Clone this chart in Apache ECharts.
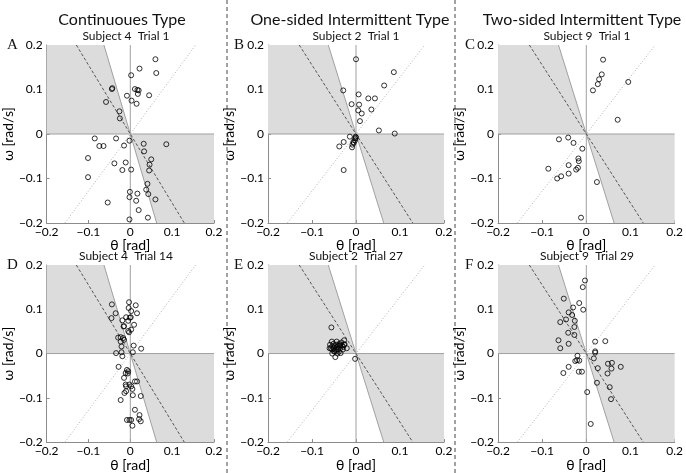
<!DOCTYPE html>
<html><head><meta charset="utf-8">
<script src="https://cdn.jsdelivr.net/npm/echarts@6/dist/echarts.min.js"></script>
<style>html,body{margin:0;padding:0;background:#fff}#c{width:686px;height:473px}</style>
</head><body><div id="c"></div>
<script>
// ---- data ----
const columnTitles = ['Continuoues Type', 'One-sided Intermittent Type', 'Two-sided Intermittent Type'];
const panelLetters = ['A', 'B', 'C', 'D', 'E', 'F'];
const panelSubtitles = ['Subject 4  Trial 1', 'Subject 2  Trial 1', 'Subject 9  Trial 1',
                        'Subject 4  Trial 14', 'Subject 2  Trial 27', 'Subject 9  Trial 29'];
const tickValues = [-0.2, -0.1, 0, 0.1, 0.2];
const shadeUpper = [[-0.2, 0], [-0.2, 0.2], [-0.063, 0.2], [0, 0]];
const shadeLower = [[0, 0], [0.063, -0.2], [0.2, -0.2], [0.2, 0]];
const switchLine = [[-0.063, 0.2], [0.063, -0.2]];
const dashedLine = [[-0.129, 0.2], [0.129, -0.2]];
const dottedLine = [[-0.156, -0.2], [0.156, 0.2]];
const zeroV = [[0, -0.2], [0, 0.2]];
const zeroH = [[-0.2, 0], [0.2, 0]];

const subject4Trial1 = [[0.060,0.168],[0.062,0.137],[0.022,0.147],[0.002,0.132],[-0.044,0.101],[-0.043,0.103],
 [0.011,0.101],[0.017,0.099],[0.020,0.098],[0.018,0.090],[0.045,0.087],[-0.008,0.086],[-0.058,0.072],[0.003,0.075],
 [0.015,0.068],[-0.026,0.051],[-0.025,0.035],[-0.085,-0.010],[-0.074,-0.027],[-0.064,-0.027],[-0.034,-0.010],
 [-0.002,-0.015],[-0.015,-0.026],[0.032,-0.022],[0.033,-0.039],[0.086,-0.023],[0.050,-0.057],[0.046,-0.069],
 [0.045,-0.082],[-0.101,-0.054],[-0.101,-0.097],[-0.038,-0.066],[-0.011,-0.064],[-0.019,-0.081],[0.002,-0.080],
 [0.041,-0.112],[0.038,-0.125],[0.043,-0.135],[0.060,-0.147],[-0.001,-0.130],[-0.002,-0.142],[0.017,-0.134],
 [0.014,-0.150],[0.020,-0.171],[-0.054,-0.154],[-0.002,-0.192],[0.042,-0.188]];
const subject2Trial1 = [[0.000,0.168],[0.086,0.139],[0.064,0.109],[-0.029,0.098],[0.006,0.089],[0.028,0.080],
 [0.043,0.080],[-0.010,0.067],[0.007,0.066],[0.035,0.055],[0.005,0.053],[0.013,0.046],[0.009,0.029],[0.052,0.008],
 [0.088,0.001],[-0.014,-0.006],[-0.001,-0.006],[-0.002,-0.010],[-0.002,-0.014],[-0.006,-0.018],[-0.008,-0.024],
 [-0.009,-0.030],[-0.028,-0.018],[-0.038,-0.028],[-0.028,-0.081],[-0.005,-0.020],[0.000,-0.008]];
const subject9Trial1 = [[0.038,0.167],[0.035,0.134],[0.029,0.123],[0.026,0.112],[0.015,0.098],[0.095,0.117],
 [0.071,0.032],[-0.062,-0.012],[-0.041,-0.008],[-0.029,-0.020],[-0.009,-0.033],[-0.086,-0.078],[-0.066,-0.100],
 [-0.057,-0.095],[-0.040,-0.070],[-0.040,-0.089],[-0.018,-0.055],[-0.017,-0.061],[-0.019,-0.076],[-0.023,-0.080],
 [0.024,-0.108],[-0.012,-0.188]];
const subject4Trial14 = [[-0.003,0.116],[0.013,0.109],[-0.044,0.111],[-0.035,0.091],[-0.045,0.080],[-0.004,0.103],
 [0.002,0.096],[0.016,0.091],[-0.010,0.082],[-0.001,0.081],[0.001,0.082],[-0.019,0.075],[-0.005,0.074],[0.009,0.065],
 [-0.016,0.061],[-0.015,0.062],[0.002,0.054],[-0.005,0.051],[-0.003,0.048],[-0.029,0.036],[-0.023,0.037],
 [-0.017,0.035],[-0.015,0.031],[-0.023,0.027],[-0.021,0.016],[0.008,0.018],[0.026,0.011],[-0.034,0.001],
 [-0.021,0.003],[0.006,0.003],[-0.019,-0.006],[-0.028,-0.030],[-0.008,-0.037],[-0.005,-0.040],[-0.006,-0.045],
 [-0.011,-0.044],[-0.015,-0.055],[-0.011,-0.070],[-0.002,-0.070],[-0.010,-0.074],[0.002,-0.074],[0.005,-0.080],
 [-0.010,-0.085],[-0.014,-0.089],[0.016,-0.063],[0.011,-0.063],[0.025,-0.096],[0.006,-0.094],[-0.023,-0.105],
 [0.011,-0.127],[0.022,-0.139],[0.021,-0.148],[0.025,-0.153],[-0.008,-0.150],[-0.002,-0.150],[0.002,-0.150],
 [0.005,-0.163]];
const subject2Trial27 = [[-0.056,0.059],[-0.027,0.030],[-0.021,0.012],[-0.002,-0.012],[-0.060,0.012],[-0.059,0.020],
 [-0.055,0.027],[-0.054,0.016],[-0.054,0.009],[-0.054,0.000],[-0.051,0.022],[-0.050,0.012],[-0.048,0.005],
 [-0.047,-0.008],[-0.045,0.020],[-0.044,0.027],[-0.042,0.015],[-0.041,0.009],[-0.039,0.018],[-0.038,0.022],
 [-0.036,0.012],[-0.035,0.001],[-0.033,0.025],[-0.032,0.018],[-0.030,0.009],[-0.029,0.015],[-0.027,0.020],
 [-0.026,0.021],[-0.042,0.000],[-0.050,0.005],[-0.057,0.012],[-0.048,0.016],[-0.039,0.004],[-0.045,0.009],
 [-0.036,0.019]];
const subject9Trial29 = [[-0.003,0.165],[-0.008,0.150],[-0.051,0.124],[-0.016,0.114],[-0.030,0.104],[-0.007,0.099],
 [-0.040,0.093],[-0.032,0.087],[-0.059,0.071],[-0.046,0.077],[-0.026,0.074],[-0.027,0.060],[-0.041,0.047],
 [-0.027,0.042],[-0.063,0.030],[-0.059,0.012],[-0.040,0.022],[0.020,0.027],[0.043,0.028],[0.020,0.005],
 [0.020,0.002],[-0.020,-0.005],[0.017,-0.011],[-0.021,-0.015],[-0.025,-0.017],[-0.016,-0.016],[-0.040,-0.030],
 [-0.052,-0.044],[-0.017,-0.041],[-0.010,-0.041],[0.026,-0.033],[0.049,-0.023],[0.058,-0.021],[0.078,-0.030],
 [0.057,-0.034],[0.048,-0.045],[0.024,-0.066],[0.053,-0.076],[0.056,-0.103],[0.002,-0.087],[0.010,-0.159]];
const panelData = [subject4Trial1, subject2Trial1, subject9Trial1, subject4Trial14, subject2Trial27, subject9Trial29];

// ---- layout ----
const gridLefts = [38, 268, 498];
const gridWidths = [176, 176, 178];
const gridTops = [45, 265];
const gridH = 178;
const sans = 'Lato, "Open Sans", sans-serif';
const fmt = v => (Math.abs(v) < 1e-9 ? '0' : (v < 0 ? '\u2212' + (+(-v).toFixed(1)) : String(+v.toFixed(1))));

const grids = [], xAxes = [], yAxes = [], series = [], graphics = [];
for (let i = 0; i < 6; i++) {
  const col = i % 3, row = Math.floor(i / 3);
  grids.push({ left: gridLefts[col], top: gridTops[row], width: gridWidths[col], height: gridH, containLabel: false });
  const axisCommon = {
    type: 'value', min: -0.2, max: 0.2, interval: 0.1, gridIndex: i,
    splitLine: { show: false },
    axisLine: { show: true, onZero: false, lineStyle: { color: '#8c8c8c', width: 1 } },
    axisTick: { show: true, inside: true, length: 3, lineStyle: { color: '#8c8c8c' } },
    axisLabel: { color: '#000', fontFamily: sans, fontSize: 12, formatter: fmt },
    nameTextStyle: { color: '#000', fontFamily: sans, fontSize: 14 },
    nameLocation: 'middle'
  };
  xAxes.push(Object.assign({}, axisCommon, { name: '\u03b8 [rad]', nameGap: 14, axisLabel: Object.assign({}, axisCommon.axisLabel, { margin: 3 }) }));
  yAxes.push(Object.assign({}, axisCommon, { name: '\u03c9 [rad/s]', nameGap: 23, axisLabel: Object.assign({}, axisCommon.axisLabel, { margin: 4 }) }));

  series.push({
    type: 'custom', xAxisIndex: i, yAxisIndex: i, silent: true, z: 1,
    data: [0, 1],
    renderItem: (params, api) => {
      const poly = params.dataIndex === 0 ? shadeUpper : shadeLower;
      return { type: 'polygon', shape: { points: poly.map(p => api.coord(p)) }, style: { fill: '#dcdcdc', stroke: null } };
    }
  });
  const line = (data, color, type, z, w) => ({
    type: 'line', xAxisIndex: i, yAxisIndex: i, data, symbol: 'none', silent: true, z,
    lineStyle: { color, width: w || 1, type }, animation: false
  });
  series.push(line(zeroV, '#a0a0a0', 'solid', 2));
  series.push(line(zeroH, '#a0a0a0', 'solid', 2));
  series.push(line(switchLine, '#a0a0a0', 'solid', 2));
  series.push(line(dottedLine, '#b0b0b0', [1, 2], 2));
  series.push(line(dashedLine, '#555', [3, 2], 2));
  series.push({
    type: 'scatter', xAxisIndex: i, yAxisIndex: i, data: panelData[i], z: 5,
    symbol: 'circle', symbolSize: 5,
    itemStyle: { color: 'rgba(0,0,0,0)', borderColor: '#000', borderWidth: 1 }
  });

  const cx = gridLefts[col] + gridWidths[col] / 2;
  graphics.push({ type: 'text', x: cx, y: gridTops[row] - 9, style: { text: panelSubtitles[i], textAlign: 'center', textVerticalAlign: 'middle', align: 'center', verticalAlign: 'middle', font: '12px ' + sans, fill: '#111' } });
  const letterX = [7, 234, 465][col];
  graphics.push({ type: 'text', x: letterX, y: gridTops[row], style: { text: panelLetters[i], textAlign: 'left', textVerticalAlign: 'middle', align: 'left', verticalAlign: 'middle', font: '15px "Liberation Serif", serif', fill: '#111' } });
}
const titleX = [122, 350, 582];
columnTitles.forEach((t, k) => {
  graphics.push({ type: 'text', x: titleX[k], y: 20, style: { text: t, textAlign: 'center', textVerticalAlign: 'middle', align: 'center', verticalAlign: 'middle', font: '16px ' + sans, fill: '#111' } });
});
[227, 455].forEach(x => {
  graphics.push({ type: 'line', shape: { x1: x, y1: 0, x2: x, y2: 473 }, style: { stroke: '#444', lineWidth: 1, lineDash: [4, 3] } });
});

const chart = echarts.init(document.getElementById('c'), null, { renderer: 'canvas' });
chart.setOption({ animation: false, backgroundColor: '#fff', grid: grids, xAxis: xAxes, yAxis: yAxes, series, graphic: graphics });
</script></body></html>
